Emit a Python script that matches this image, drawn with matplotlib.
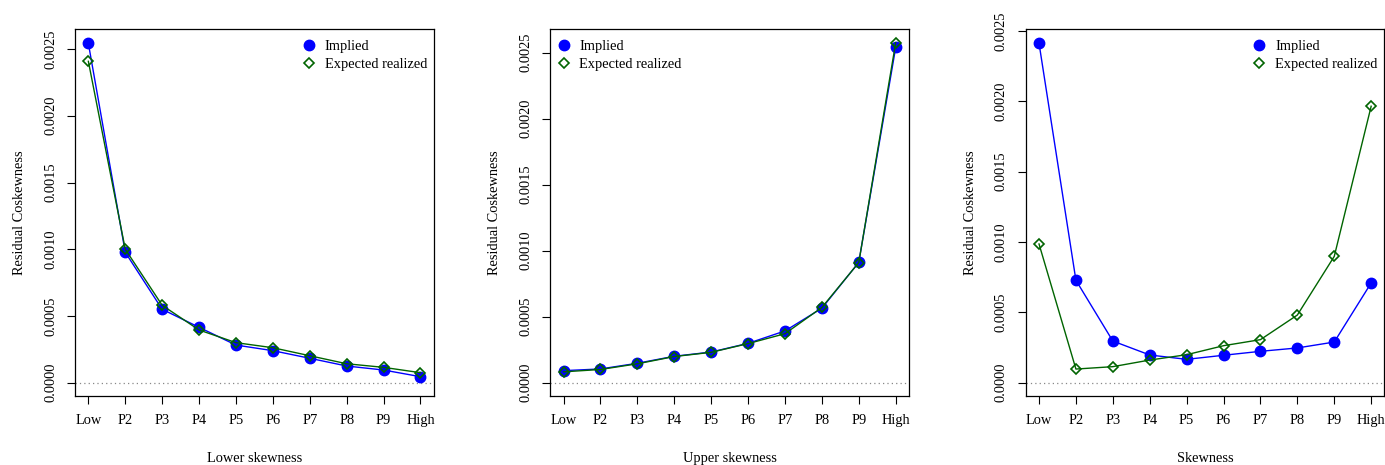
import matplotlib
matplotlib.use("Agg")
import matplotlib.pyplot as plt
from matplotlib.lines import Line2D

categories = ["Low", "P2", "P3", "P4", "P5", "P6", "P7", "P8", "P9", "High"]

lower_implied = [0.002543, 0.000977, 0.000550, 0.000415, 0.000282, 0.000240, 0.000183, 0.000125, 0.000095, 0.000045]
lower_expected = [0.002408, 0.001000, 0.000580, 0.000395, 0.000300, 0.000262, 0.000202, 0.000142, 0.000115, 0.000075]

upper_implied = [0.000091, 0.000104, 0.000147, 0.000200, 0.000232, 0.000298, 0.000392, 0.000564, 0.000912, 0.002540]
upper_expected = [0.000082, 0.000100, 0.000143, 0.000198, 0.000230, 0.000296, 0.000371, 0.000570, 0.000910, 0.002576]

skew_implied = [0.002413, 0.000728, 0.000296, 0.000197, 0.000166, 0.000195, 0.000223, 0.000247, 0.000289, 0.000709]
skew_expected = [0.000986, 0.000097, 0.000114, 0.000161, 0.000199, 0.000263, 0.000306, 0.000481, 0.000898, 0.001965]

xlabels = ["Lower skewness", "Upper skewness", "Skewness"]
ylabel = "Residual Coskewness"
legend_labels = ["Implied", "Expected realized"]
yticks = [0.0, 0.0005, 0.0010, 0.0015, 0.0020, 0.0025]

plt.rcParams["font.family"] = ["Liberation Serif", "DejaVu Serif"]
plt.rcParams["font.size"] = 10.4

BLUE = "#0000FF"
GREEN = "#006400"

fig = plt.figure(figsize=(13.85, 4.65), dpi=100)

panels = [
    (0.0542, lower_implied, lower_expected, (-0.0000996, 0.00265), "upper right", (0.997, 0.986)),
    (0.3973, upper_implied, upper_expected, (-0.000101, 0.00268), "upper left", (0.005, 0.986)),
    (0.7406, skew_implied, skew_expected, (-0.0000945, 0.002514), "upper right", (0.997, 0.986)),
]

x = list(range(1, len(categories) + 1))
for i, (left, imp, exp, ylim, loc, anchor) in enumerate(panels):
    ax = fig.add_axes([left, 0.1484, 0.2590, 0.7892])
    ax.axhline(0, color="#888888", linestyle=(0, (1, 2.5)), linewidth=0.9, zorder=1)
    ax.plot(x, imp, color=BLUE, linewidth=1.0, marker="o", markersize=7.5,
            markerfacecolor=BLUE, markeredgecolor=BLUE, zorder=3)
    ax.plot(x, exp, color=GREEN, linewidth=1.0, marker="D", markersize=5.5,
            markerfacecolor="none", markeredgecolor=GREEN, markeredgewidth=1.2, zorder=4)
    ax.set_xlim(0.64, 10.36)
    ax.set_ylim(*ylim)
    ax.set_xticks(x)
    ax.set_xticklabels(categories)
    ax.set_yticks(yticks)
    ax.set_yticklabels([f"{v:.4f}" for v in yticks], rotation=90, va="center")
    ax.tick_params(axis="both", direction="out", length=6, width=0.8, pad=7)
    for s in ax.spines.values():
        s.set_linewidth(0.9)
    ax.set_xlabel(xlabels[i], labelpad=18)
    ax.set_ylabel(ylabel, labelpad=13)
    handles = [
        Line2D([], [], linestyle="none", marker="o", markersize=7.5, color=BLUE),
        Line2D([], [], linestyle="none", marker="D", markersize=5.5,
               markerfacecolor="none", markeredgecolor=GREEN, markeredgewidth=1.2),
    ]
    ax.legend(handles, legend_labels, loc=loc, bbox_to_anchor=anchor, frameon=False,
              handletextpad=0.7, handlelength=0.8, borderaxespad=0.0, labelspacing=0.35)

fig.savefig("out.png", dpi=100)
